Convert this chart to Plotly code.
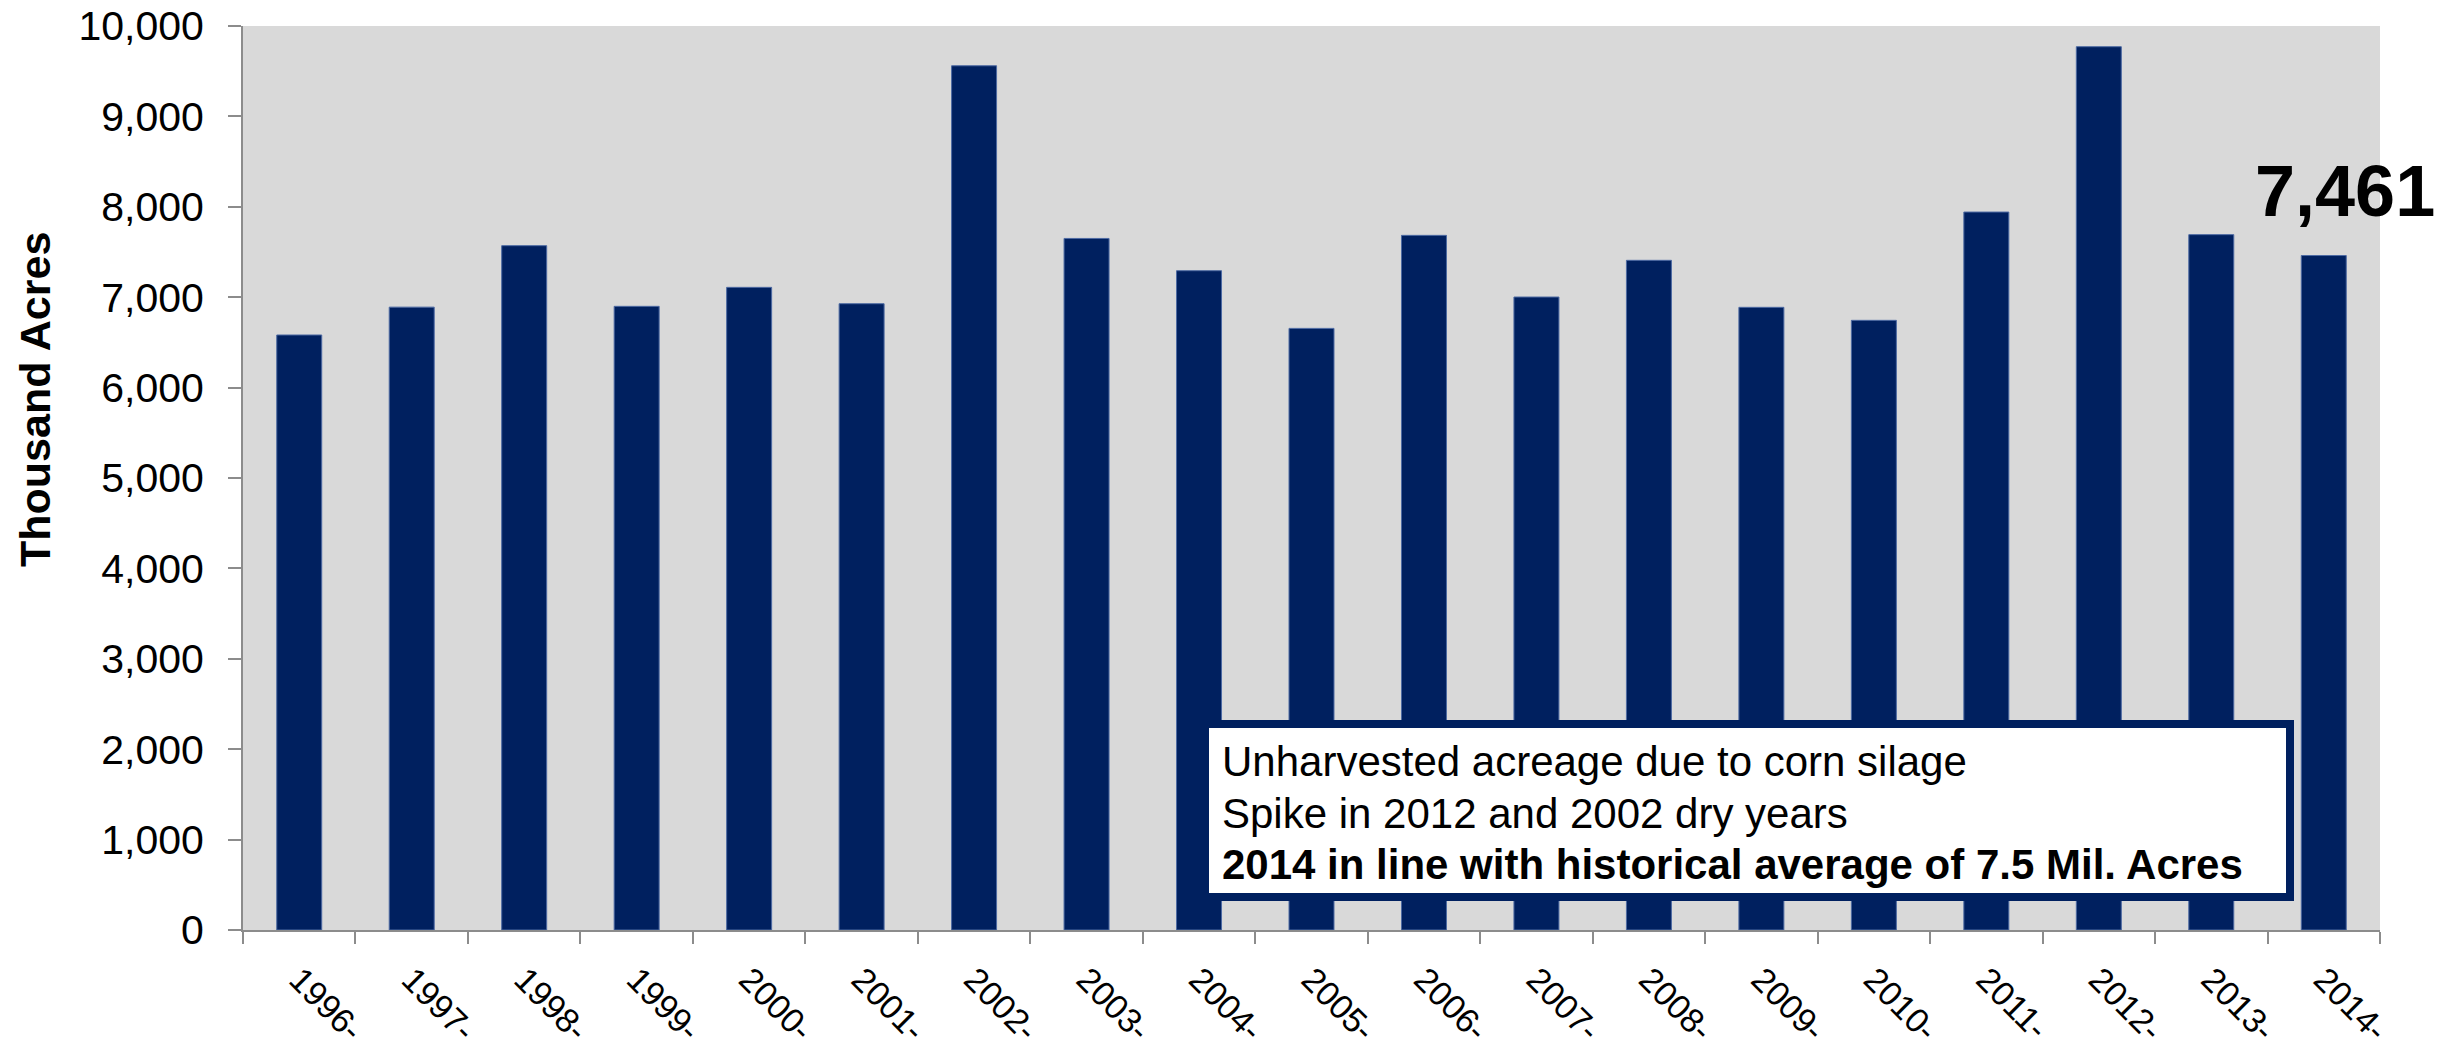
import plotly.graph_objects as go

# ---- data ----
years = ["1996-", "1997-", "1998-", "1999-", "2000-", "2001-", "2002-", "2003-", "2004-",
         "2005-", "2006-", "2007-", "2008-", "2009-", "2010-", "2011-", "2012-", "2013-", "2014-"]
unharvested = [6582, 6890, 7570, 6899, 7109, 6928, 9560, 7650, 7293,
               6655, 7684, 7002, 7408, 6888, 6744, 7942, 9771, 7692, 7461]
y_ticks = list(range(0, 10001, 1000))
note_lines = ["Unharvested acreage due to corn silage",
              "Spike in 2012 and 2002 dry years",
              "<b>2014 in line with historical average of 7.5 Mil. Acres</b>"]
y_title = "Thousand Acres"

NAVY = "#00205F"
FONT = "Liberation Sans, Arial, sans-serif"
W, H = 2453, 1057
L, R, T, B = 243, 73, 26, 127
PW, PH = W - L - R, H - T - B


def px(xs):
    return (xs - L) / PW


def py(ys):
    return (H - B - ys) / PH


fig = go.Figure(go.Bar(
    x=years, y=unharvested,
    marker=dict(color=NAVY, line=dict(color="#4d6aa3", width=1)),
    hoverinfo="x+y",
))

fig.update_layout(
    width=W, height=H,
    margin=dict(l=L, r=R, t=T, b=B, autoexpand=False),
    paper_bgcolor="white",
    plot_bgcolor="#D9D9D9",
    bargap=0.6,
    showlegend=False,
    font=dict(family=FONT, color="black"),
)

fig.update_xaxes(
    type="category",
    range=[-0.5, len(years) - 0.5],
    tickangle=45,
    tickfont=dict(size=34, family=FONT, color="black"),
    showgrid=False,
    showline=True, linecolor="#8c8c8c", linewidth=2,
    ticks="outside", tickson="boundaries", ticklen=12, tickcolor="#8c8c8c", tickwidth=2,
    ticklabelstandoff=14,
    ticklabeloverflow="allow",
)
fig.update_yaxes(
    range=[0, 10000],
    tickvals=y_ticks,
    tickformat=",d",
    tickfont=dict(size=41, family=FONT, color="black"),
    showgrid=False, zeroline=False,
    showline=True, linecolor="#8c8c8c", linewidth=2,
    ticks="outside", ticklen=13, tickcolor="#8c8c8c", tickwidth=2,
    ticklabelstandoff=16,
    ticklabeloverflow="allow",
)

# y-axis title
fig.add_annotation(
    x=px(35), y=py(400), xref="paper", yref="paper",
    xanchor="center", yanchor="middle",
    text=f"<b>{y_title}</b>", textangle=-90, showarrow=False,
    font=dict(size=43, family=FONT, color="black"),
)

# last value label
fig.add_annotation(
    x=years[-1], y=unharvested[-1], xref="x", yref="y",
    text=f"<b>{unharvested[-1]:,}</b>", showarrow=False,
    xshift=21, yshift=65,
    font=dict(size=72, family=FONT, color="black"),
)

# note box
fig.add_shape(
    type="rect", xref="paper", yref="paper",
    x0=px(1205), x1=px(2290), y0=py(897), y1=py(724),
    line=dict(color=NAVY, width=8), fillcolor="white", layer="above",
)
for line, yc in zip(note_lines, [762, 813, 864]):
    fig.add_annotation(
        x=px(1220), y=py(yc), xref="paper", yref="paper",
        xanchor="left", yanchor="middle", text=line, showarrow=False,
        font=dict(size=42, family=FONT, color="black"),
    )

fig.write_html(
    "out.html",
    config={"displayModeBar": False},
    post_script="document.body.style.margin='0';document.body.style.padding='0';",
)
